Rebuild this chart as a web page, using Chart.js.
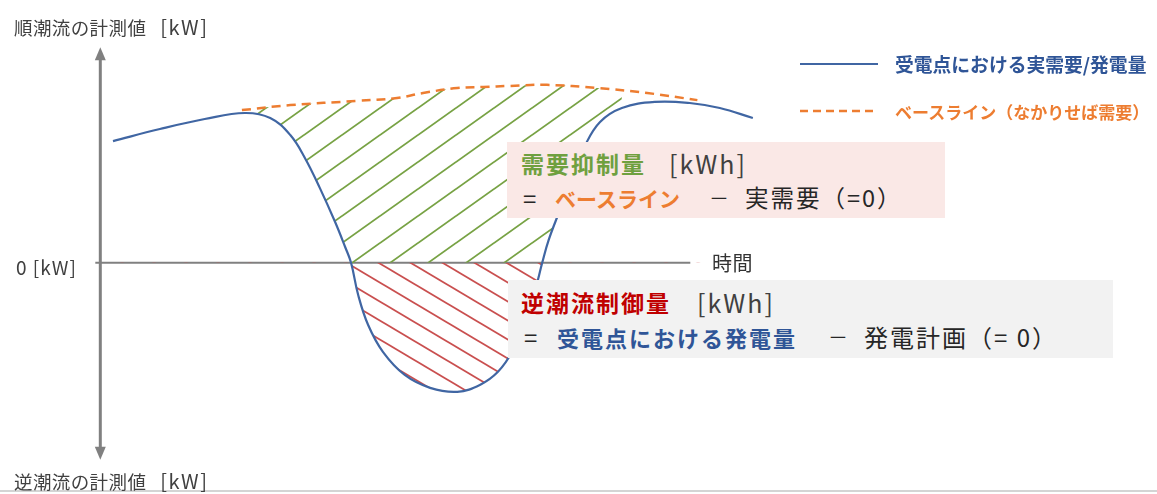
<!DOCTYPE html>
<html><head><meta charset="utf-8">
<script src="https://cdn.jsdelivr.net/npm/chart.js@4.4.1/dist/chart.umd.min.js"></script>
<style>
html,body{margin:0;padding:0;background:#fff;}
#wrap{position:relative;width:1157px;height:494px;overflow:hidden;font-family:"Noto Sans CJK JP","Noto Sans",sans-serif;}
#chart{position:absolute;left:0;top:0;}
.t{position:absolute;white-space:nowrap;line-height:1;transform:translateY(-50%);}
.box{position:absolute;}
.lbl{font-size:18.5px;color:#404040;letter-spacing:0.4px;}
.kw{font-size:20px;letter-spacing:1.5px;margin-left:14px;}
.b{font-weight:bold;}
.dk{color:#262626;}
.kwh{font-size:25px;letter-spacing:2px;color:#404040;}
#legend .it{position:absolute;left:800px;height:0;}
#legend svg{position:absolute;left:0;top:-4px;}
#legend .lt{position:absolute;left:95px;top:0;transform:translateY(-50%);white-space:nowrap;line-height:1;font-weight:bold;}
</style></head><body>
<div id="wrap">
<canvas id="chart" width="1157" height="494"></canvas>

<div class="t lbl" style="left:14px;top:27px">順潮流の計測値<span class="kw">[kW]</span></div>
<div class="t lbl" style="left:14px;top:481px">逆潮流の計測値<span class="kw">[kW]</span></div>
<div class="t lbl" style="left:16px;top:266px;font-size:19px;letter-spacing:1px">0 [kW]</div>
<div class="t lbl" style="left:712px;top:263px;font-size:20px;color:#333">時間</div>

<div class="box" style="left:507px;top:142px;width:438px;height:76px;background:#FAE8E6"></div>
<div class="t b" style="left:521px;top:163px;font-size:23px;color:#6FA03F;letter-spacing:2px">需要抑制量</div>
<div class="t kwh" style="left:669px;top:163px">[kWh]</div>
<div class="t dk" style="left:523px;top:198px;font-size:24px">=</div>
<div class="t b" style="left:555px;top:198px;font-size:21px;color:#ED7D31">ベースライン</div>
<div class="t dk" style="left:709px;top:198px;font-size:20px">－</div>
<div class="t dk" style="left:745px;top:198px;font-size:23.5px;letter-spacing:2px">実需要（=0）</div>

<div class="box" style="left:508px;top:280px;width:605px;height:78px;background:#F2F2F2"></div>
<div class="t b" style="left:521px;top:302px;font-size:23px;color:#C00000;letter-spacing:2px">逆潮流制御量</div>
<div class="t kwh" style="left:697px;top:302px">[kWh]</div>
<div class="t dk" style="left:524px;top:337px;font-size:24px">=</div>
<div class="t b" style="left:557px;top:337px;font-size:22px;color:#2F5597;letter-spacing:2px">受電点における発電量</div>
<div class="t dk" style="left:828px;top:337px;font-size:20px">－</div>
<div class="t dk" style="left:864px;top:337px;font-size:24px;letter-spacing:2px">発電計画（= 0）</div>

<div id="legend"></div>
</div>
<script>
// ---- data (time in arbitrary units, power in kW-relative units) ----
const timeActual = [2.15, 10.1, 17.7, 24.5, 28.8, 32.2, 34.7, 37.2, 39.8, 41.5, 42.5, 43.7, 45.4, 47.9, 51.6, 55.9, 60.5, 64.4, 67.4, 69.8, 72.0, 73.8, 74.9, 76.0, 77.9, 79.9, 82.2, 84.7, 88.4, 94.0, 99.9, 105.0, 110.6];
const actualPower = [46.3, 50.9, 54.7, 57.0, 55.1, 48.6, 39.8, 28.5, 15.5, 6.0, 0, -12.2, -23.7, -33.9, -42.7, -47.6, -49.1, -46.4, -41.5, -33.9, -22.5, -9.6, 0, 8.7, 20.1, 32.3, 44.8, 53.6, 58.9, 61.2, 60.8, 58.9, 55.1];
const timeBaseline = [24.0, 32.2, 43.5, 50.3, 54.7, 60.5, 64.9, 69.4, 75.7, 84.2, 92.7, 101.2];
const baselinePower = [58.1, 60.0, 61.6, 62.7, 64.6, 66.5, 66.9, 67.3, 67.7, 66.5, 64.6, 61.9];
const seriesLabels = ['受電点における実需要/発電量', 'ベースライン（なかりせば需要）'];
const reductionWindowEnd = 90;    // end of the hatched demand-reduction period
const timeAxisEnd = 100;          // end of the 時間 axis
const powerAxisRange = [-75, 82]; // extent of the vertical arrow axis

// ---- helpers ----
function hatch(color, w, h, up, lw) {
  const c = document.createElement('canvas'); c.width = w; c.height = h;
  const g = c.getContext('2d'); g.strokeStyle = color; g.lineWidth = lw;
  for (const k of [-1, 0, 1]) {
    g.beginPath();
    if (up) { g.moveTo(-w, 2 * h + k * h); g.lineTo(2 * w, -h + k * h); }
    else { g.moveTo(-w, -h + k * h); g.lineTo(2 * w, 2 * h + k * h); }
    g.stroke();
  }
  return g.createPattern(c, 'repeat');
}
const greenHatch = hatch('#77A244', 38, 27, true, 1.8);
const redHatch = hatch('#C94F4F', 32, 19, false, 1.8);

const pts = (xs, ys) => xs.map((x, i) => ({x, y: ys[i]}));
// actual demand, clipped at 0 and limited to the reduction window (lower edge of the green area)
const demandInWindow = pts(timeActual, actualPower.map(v => Math.max(v, 0))).filter(p => p.x <= reductionWindowEnd);

const axesPlugin = {
  id: 'arrowAxes',
  beforeDatasetsDraw(chart) {
    const {ctx, scales: {x, y}} = chart;
    const x0 = x.getPixelForValue(0), y0 = y.getPixelForValue(0);
    const yt = y.getPixelForValue(powerAxisRange[1]), yb = y.getPixelForValue(powerAxisRange[0]);
    ctx.save();
    ctx.strokeStyle = '#808080'; ctx.fillStyle = '#808080';
    ctx.lineWidth = 3;
    ctx.beginPath(); ctx.moveTo(x0, yt + 10); ctx.lineTo(x0, yb - 10); ctx.stroke();
    ctx.beginPath(); ctx.moveTo(x0, yt); ctx.lineTo(x0 - 5.5, yt + 13); ctx.lineTo(x0 + 5.5, yt + 13); ctx.closePath(); ctx.fill();
    ctx.beginPath(); ctx.moveTo(x0, yb); ctx.lineTo(x0 - 5.5, yb - 13); ctx.lineTo(x0 + 5.5, yb - 13); ctx.closePath(); ctx.fill();
    ctx.lineWidth = 2;
    ctx.beginPath(); ctx.moveTo(x0 - 5, y0); ctx.lineTo(x.getPixelForValue(timeAxisEnd), y0); ctx.stroke();
    ctx.strokeStyle = '#D4D4D4'; ctx.lineWidth = 2;
    ctx.beginPath(); ctx.moveTo(0, chart.height - 3); ctx.lineTo(chart.width, chart.height - 3); ctx.stroke();
    ctx.restore();
  }
};

const chart = new Chart(document.getElementById('chart'), {
  type: 'line',
  data: {
    datasets: [
      {
        label: seriesLabels[0],
        data: pts(timeActual, actualPower),
        borderColor: '#4066A3', borderWidth: 2.2, tension: 0.4,
        fill: {target: 'origin', above: 'rgba(0,0,0,0)', below: redHatch}
      },
      {
        label: seriesLabels[1],
        data: pts(timeBaseline, baselinePower),
        borderColor: '#ED7D31', borderWidth: 2.5, borderDash: [9, 6], tension: 0.4,
        fill: {target: 2, above: greenHatch, below: 'rgba(0,0,0,0)'}
      },
      {
        label: '',
        data: demandInWindow,
        borderColor: 'rgba(0,0,0,0)', borderWidth: 0, tension: 0.4,
        fill: false
      }
    ]
  },
  options: {
    responsive: false, animation: false, events: [],
    layout: {padding: 0},
    elements: {point: {radius: 0}},
    plugins: {legend: {display: false}, tooltip: {enabled: false}},
    scales: {
      x: {type: 'linear', min: -17, max: 179.1, display: false},
      y: {type: 'linear', min: -88, max: 100, display: false}
    }
  },
  plugins: [axesPlugin]
});

// ---- HTML legend built from the datasets ----
const legendEl = document.getElementById('legend');
const legendStyle = [{top: 64, size: 18.8, color: '#2F5597'}, {top: 111, size: 17, color: '#ED7D31'}];
chart.data.datasets.forEach((ds, i) => {
  if (!ds.label) return;
  const st = legendStyle[i];
  const it = document.createElement('div'); it.className = 'it'; it.style.top = st.top + 'px';
  const dash = ds.borderDash ? 'stroke-dasharray="8 5"' : '';
  it.innerHTML = '<svg width="78" height="8"><line x1="0" y1="4" x2="78" y2="4" stroke="' + ds.borderColor + '" stroke-width="' + ds.borderWidth + '" ' + dash + '/></svg>' +
    '<div class="lt" style="font-size:' + st.size + 'px;color:' + st.color + '">' + ds.label + '</div>';
  legendEl.appendChild(it);
});
</script>
</body></html>
